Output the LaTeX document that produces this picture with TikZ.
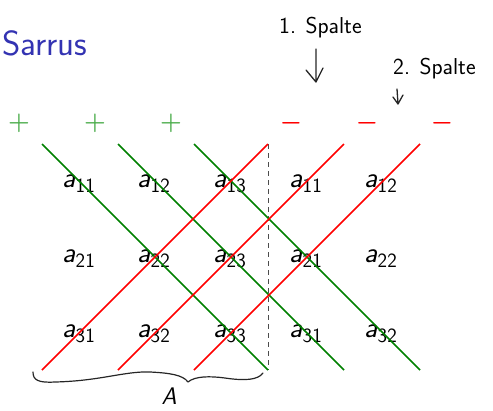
\documentclass[tikz,border=0pt]{standalone}
\usepackage{fontspec}
\definecolor{beamerblue}{rgb}{0.2,0.2,0.7}
\definecolor{pgreen}{rgb}{0.3,0.68,0.3}
\definecolor{dgreen}{rgb}{0,0.5,0}
\tikzset{
  entry/.style={anchor=base west,inner sep=0pt,font=\fontsize{29}{34}\selectfont\sffamily},
  sign/.style={inner sep=0pt,font=\fontsize{32}{36}\selectfont\boldmath},
  gline/.style={dgreen,line width=1.6pt},
  rline/.style={red,line width=1.6pt},
  hand/.style={black!85,line width=1.3pt,line cap=round,line join=round},
  handtext/.style={inner sep=0pt,anchor=base west,font=\fontsize{23}{24}\selectfont\sffamily}
}
\newcommand{\ent}[1]{\textit{a}\textsubscript{#1}}
\begin{document}
\begin{tikzpicture}[x=1pt,y=-1pt]
\useasboundingbox (0,0) rectangle (493,410);
% title
\node[anchor=base west,inner sep=0pt,text=beamerblue,font=\fontsize{35}{40}\selectfont\sffamily] (title) at (2,55) {Sarrus};
% signs
\node[sign,text=pgreen] (p1) at (19,123) {$+$};
\node[sign,text=pgreen] (p2) at (95,123) {$+$};
\node[sign,text=pgreen] (p3) at (171,123) {$+$};
\node[sign,text=red] (m1) at (291,123) {$-$};
\node[sign,text=red] (m2) at (367,123) {$-$};
\node[sign,text=red] (m3) at (442,123) {$-$};
% entries
\node[entry] (a11) at (62,187) {\ent{11}};
\node[entry] (a12) at (137,187) {\ent{12}};
\node[entry] (a13) at (213,187) {\ent{13}};
\node[entry] (b11) at (289,187) {\ent{11}};
\node[entry] (b12) at (364,187) {\ent{12}};
\node[entry] (a21) at (62,262) {\ent{21}};
\node[entry] (a22) at (137,262) {\ent{22}};
\node[entry] (a23) at (213,262) {\ent{23}};
\node[entry] (b21) at (289,262) {\ent{21}};
\node[entry] (b22) at (364,262) {\ent{22}};
\node[entry] (a31) at (62,337) {\ent{31}};
\node[entry] (a32) at (137,337) {\ent{32}};
\node[entry] (a33) at (213,337) {\ent{33}};
\node[entry] (b31) at (289,337) {\ent{31}};
\node[entry] (b32) at (364,337) {\ent{32}};
% line end points
\coordinate (t1) at (42,144); \coordinate (t2) at (118,144); \coordinate (t3) at (194,144);
\coordinate (t4) at (268,144); \coordinate (t5) at (344,144); \coordinate (t6) at (420,144);
\coordinate (u1) at (42,370); \coordinate (u2) at (118,370); \coordinate (u3) at (194,370);
\coordinate (u4) at (268,370); \coordinate (u5) at (344,370); \coordinate (u6) at (420,370);
% dashed separator
\draw[black!70,line width=0.8pt,dash pattern=on 5pt off 4pt] (t4) -- (u4);
% diagonals
\draw[gline] (t1) -- (u4);
\draw[gline] (t2) -- (u5);
\draw[gline] (t3) -- (u6);
\draw[rline] (u1) -- (t4);
\draw[rline] (u2) -- (t5);
\draw[rline] (u3) -- (t6);
% handwritten annotations
\node[handtext] (s1) at (279,33) {1. Spalte};
\node[handtext] (s2) at (393,74) {2. Spalte};
\coordinate (ar1a) at (316,49); \coordinate (ar1b) at (316,82);
\draw[hand] (ar1a) -- (ar1b) (306,70) -- (ar1b) -- (323,68);
\coordinate (ar2a) at (397,89); \coordinate (ar2b) at (398,104);
\draw[hand] (ar2a) -- (ar2b) (393,97) -- (ar2b) -- (403,95);
% brace
\draw[hand,line width=1.2pt] (33,372) .. controls (33,380) and (38,383) .. (55,382)
  .. controls (100,381) and (125,371) .. (150,372)
  .. controls (170,373) and (183,375) .. (188,382)
  .. controls (195,376) and (210,376) .. (225,378)
  .. controls (245,381) and (258,380) .. (263,373);
\node[inner sep=0pt,anchor=base,font=\fontsize{24}{26}\selectfont\sffamily\itshape] (A) at (169,404) {A};
\end{tikzpicture}
\end{document}
